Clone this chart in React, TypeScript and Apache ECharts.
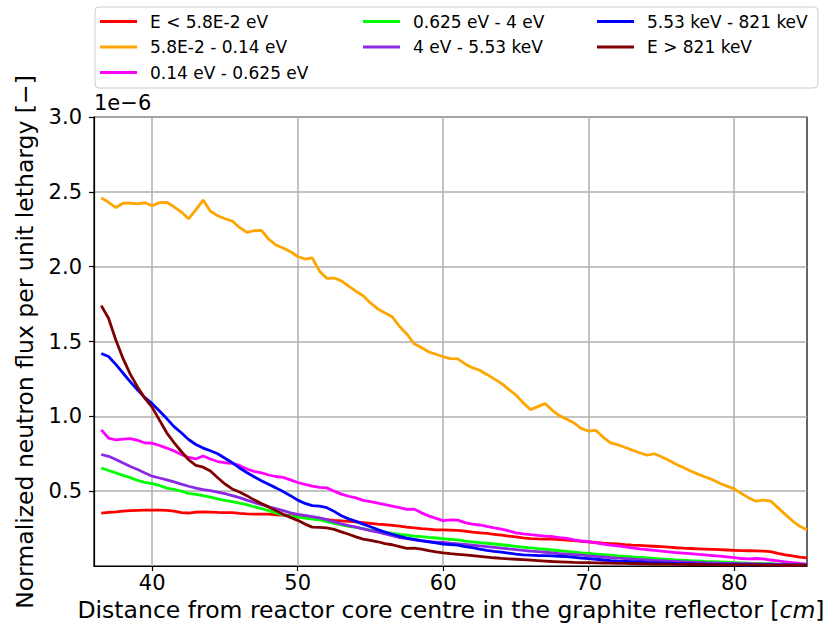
import React, { useEffect, useRef } from "react";
import * as echarts from "echarts";

// Distance from reactor core centre [cm] (sampling grid of the tally, 0.5 cm step)
const DISTANCE_CM: number[] = Array.from({ length: 98 }, (_, i) => 36.5 + 0.5 * i);

const X_TICKS = [40, 50, 60, 70, 80];
const Y_TICKS = [0.5, 1.0, 1.5, 2.0, 2.5, 3.0];

const SERIES_NAMES = [
  "E < 5.8E-2 eV",
  "5.8E-2 - 0.14 eV",
  "0.14 eV - 0.625 eV",
  "0.625 eV - 4 eV",
  "4 eV - 5.53 keV",
  "5.53 keV - 821 keV",
  "E > 821 keV",
];
const SERIES_COLORS = ["#ff0000", "#ffa500", "#ff00ff", "#00ff00", "#8a2be2", "#0000ff", "#800000"];

// values in units of 1e-6
const FLUX_THERMAL_LOW = [
  0.353, 0.358, 0.362, 0.367, 0.37, 0.372, 0.373, 0.373, 0.373, 0.371,
  0.366, 0.356, 0.354, 0.36, 0.362, 0.36, 0.358, 0.357, 0.357, 0.352,
  0.348, 0.347, 0.347, 0.346, 0.342, 0.34, 0.336, 0.332, 0.325, 0.32,
  0.314, 0.31, 0.305, 0.302, 0.298, 0.295, 0.29, 0.285, 0.28, 0.276,
  0.272, 0.266, 0.26, 0.255, 0.25, 0.246, 0.242, 0.241, 0.24, 0.238,
  0.233, 0.226, 0.222, 0.218, 0.212, 0.206, 0.2, 0.194, 0.188, 0.183,
  0.181, 0.18, 0.179, 0.177, 0.173, 0.169, 0.165, 0.161, 0.157, 0.153,
  0.15, 0.147, 0.143, 0.14, 0.138, 0.135, 0.132, 0.129, 0.126, 0.122,
  0.119, 0.117, 0.115, 0.113, 0.111, 0.109, 0.107, 0.105, 0.103, 0.102,
  0.101, 0.099, 0.096, 0.085, 0.075, 0.067, 0.06, 0.055,
];
const FLUX_THERMAL_MID = [
  2.46, 2.43, 2.395, 2.424, 2.425, 2.42, 2.427, 2.407, 2.428, 2.43,
  2.4, 2.365, 2.32, 2.38, 2.445, 2.37, 2.34, 2.32, 2.305, 2.262,
  2.229, 2.24, 2.243, 2.185, 2.145, 2.125, 2.1, 2.068, 2.051, 2.058,
  1.97, 1.922, 1.924, 1.905, 1.87, 1.836, 1.806, 1.758, 1.718, 1.69,
  1.665, 1.6, 1.55, 1.485, 1.46, 1.431, 1.415, 1.398, 1.386, 1.384,
  1.35, 1.325, 1.308, 1.28, 1.25, 1.22, 1.18, 1.142, 1.09, 1.045,
  1.065, 1.085, 1.04, 1.003, 0.98, 0.955, 0.918, 0.902, 0.906, 0.86,
  0.822, 0.81, 0.792, 0.774, 0.757, 0.74, 0.75, 0.73, 0.706, 0.68,
  0.658, 0.635, 0.614, 0.595, 0.577, 0.553, 0.534, 0.515, 0.484, 0.455,
  0.433, 0.44, 0.434, 0.39, 0.345, 0.302, 0.265, 0.242,
];
const FLUX_THERMAL_HIGH = [
  0.91, 0.855, 0.842, 0.848, 0.851, 0.84, 0.822, 0.82, 0.805, 0.788,
  0.769, 0.745, 0.725, 0.715, 0.735, 0.715, 0.698, 0.69, 0.686, 0.672,
  0.648, 0.632, 0.623, 0.608, 0.598, 0.592, 0.575, 0.558, 0.545, 0.534,
  0.526, 0.522, 0.5, 0.48, 0.466, 0.455, 0.438, 0.43, 0.42, 0.41,
  0.4, 0.39, 0.378, 0.38, 0.355, 0.335, 0.318, 0.303, 0.308, 0.306,
  0.29, 0.28, 0.274, 0.264, 0.255, 0.247, 0.235, 0.222, 0.215, 0.209,
  0.204, 0.2, 0.197, 0.19, 0.185, 0.175, 0.167, 0.162, 0.155, 0.147,
  0.14, 0.134, 0.128, 0.121, 0.114, 0.109, 0.104, 0.099, 0.094, 0.09,
  0.086, 0.082, 0.078, 0.074, 0.07, 0.066, 0.061, 0.056, 0.05, 0.048,
  0.05, 0.048, 0.04, 0.034, 0.028, 0.022, 0.017, 0.013,
];
const FLUX_EPITHERMAL_LOW = [
  0.655, 0.638, 0.622, 0.605, 0.59, 0.572, 0.558, 0.55, 0.538, 0.52,
  0.512, 0.5, 0.485, 0.478, 0.47, 0.46, 0.448, 0.438, 0.43, 0.42,
  0.41, 0.396, 0.384, 0.37, 0.355, 0.342, 0.333, 0.326, 0.32, 0.313,
  0.308, 0.297, 0.285, 0.275, 0.265, 0.258, 0.249, 0.24, 0.232, 0.226,
  0.218, 0.211, 0.206, 0.2, 0.196, 0.191, 0.187, 0.182, 0.178, 0.174,
  0.166, 0.161, 0.156, 0.152, 0.147, 0.142, 0.137, 0.131, 0.126, 0.121,
  0.116, 0.112, 0.107, 0.102, 0.098, 0.093, 0.088, 0.084, 0.08, 0.076,
  0.072, 0.068, 0.064, 0.06, 0.057, 0.054, 0.05, 0.047, 0.044, 0.041,
  0.039, 0.036, 0.034, 0.031, 0.029, 0.027, 0.025, 0.023, 0.021, 0.019,
  0.018, 0.016, 0.015, 0.013, 0.012, 0.01, 0.009, 0.008,
];
const FLUX_EPITHERMAL_HIGH = [
  0.745, 0.733, 0.712, 0.688, 0.665, 0.645, 0.622, 0.6, 0.588, 0.575,
  0.562, 0.547, 0.533, 0.52, 0.51, 0.503, 0.494, 0.483, 0.47, 0.457,
  0.44, 0.424, 0.41, 0.396, 0.383, 0.37, 0.355, 0.345, 0.338, 0.33,
  0.322, 0.31, 0.295, 0.282, 0.27, 0.26, 0.248, 0.236, 0.226, 0.215,
  0.203, 0.19, 0.183, 0.175, 0.168, 0.163, 0.16, 0.157, 0.152, 0.148,
  0.144, 0.139, 0.134, 0.129, 0.124, 0.119, 0.114, 0.11, 0.105, 0.1,
  0.096, 0.092, 0.088, 0.083, 0.08, 0.076, 0.072, 0.068, 0.064, 0.06,
  0.056, 0.052, 0.049, 0.046, 0.043, 0.04, 0.037, 0.035, 0.032, 0.03,
  0.028, 0.026, 0.024, 0.022, 0.021, 0.019, 0.018, 0.017, 0.016, 0.015,
  0.014, 0.013, 0.012, 0.011, 0.01, 0.01, 0.009, 0.009,
];
const FLUX_FAST_LOW = [
  1.42, 1.4, 1.347, 1.288, 1.23, 1.175, 1.125, 1.085, 1.035, 0.985,
  0.931, 0.89, 0.845, 0.812, 0.788, 0.77, 0.75, 0.72, 0.69, 0.655,
  0.625, 0.596, 0.57, 0.546, 0.522, 0.497, 0.47, 0.44, 0.418, 0.403,
  0.4, 0.39, 0.365, 0.336, 0.315, 0.298, 0.28, 0.262, 0.243, 0.226,
  0.212, 0.198, 0.186, 0.178, 0.17, 0.162, 0.154, 0.147, 0.143, 0.14,
  0.13, 0.122, 0.113, 0.105, 0.098, 0.092, 0.086, 0.08, 0.075, 0.072,
  0.07, 0.069, 0.068, 0.065, 0.062, 0.058, 0.053, 0.049, 0.045, 0.04,
  0.036, 0.033, 0.031, 0.029, 0.027, 0.024, 0.022, 0.02, 0.019, 0.017,
  0.016, 0.015, 0.013, 0.012, 0.011, 0.01, 0.009, 0.009, 0.008, 0.008,
  0.007, 0.007, 0.007, 0.006, 0.006, 0.006, 0.005, 0.005,
];
const FLUX_FAST_HIGH = [
  1.74, 1.655, 1.51, 1.385, 1.28, 1.195, 1.12, 1.06, 0.975, 0.89,
  0.824, 0.765, 0.71, 0.672, 0.66, 0.635, 0.59, 0.548, 0.515, 0.494,
  0.47, 0.442, 0.418, 0.395, 0.37, 0.345, 0.325, 0.305, 0.28, 0.26,
  0.258, 0.255, 0.245, 0.228, 0.212, 0.195, 0.18, 0.172, 0.162, 0.15,
  0.142, 0.13, 0.118, 0.12, 0.113, 0.102, 0.094, 0.087, 0.082, 0.078,
  0.074, 0.07, 0.065, 0.06, 0.055, 0.051, 0.048, 0.045, 0.042, 0.039,
  0.036, 0.033, 0.03, 0.028, 0.026, 0.024, 0.023, 0.022, 0.021, 0.02,
  0.019, 0.018, 0.017, 0.016, 0.015, 0.014, 0.013, 0.013, 0.012, 0.011,
  0.011, 0.01, 0.01, 0.009, 0.009, 0.008, 0.008, 0.008, 0.007, 0.007,
  0.007, 0.006, 0.006, 0.006, 0.005, 0.005, 0.005, 0.005,
];

const ALL_FLUX = [
  FLUX_THERMAL_LOW,
  FLUX_THERMAL_MID,
  FLUX_THERMAL_HIGH,
  FLUX_EPITHERMAL_LOW,
  FLUX_EPITHERMAL_HIGH,
  FLUX_FAST_LOW,
  FLUX_FAST_HIGH,
];

const FONT = "DejaVu Sans";

export default function App() {
  const ref = useRef<HTMLDivElement>(null);

  useEffect(() => {
    if (!ref.current) return;
    const chart = echarts.init(ref.current, undefined, { renderer: "svg" });

    const legendCommon = {
      orient: "vertical" as const,
      padding: 0,
      icon: "rect",
      itemWidth: 37,
      itemHeight: 3,
      itemGap: 6.5,
      selectedMode: false,
      textStyle: {
        fontFamily: FONT,
        fontSize: 17,
        color: "#000",
        lineHeight: 19,
        padding: [0, 0, 0, 8],
      },
    };

    const option: any = {
      animation: false,
      backgroundColor: "#fff",
      grid: {
        left: 94,
        right: 19,
        top: 117,
        bottom: 66,
        show: true,
        borderColor: "#000",
        borderWidth: 1.2,
        backgroundColor: "transparent",
      },
      legend: [
        { ...legendCommon, data: SERIES_NAMES.slice(0, 3), left: 100, top: 12 },
        { ...legendCommon, data: SERIES_NAMES.slice(3, 5), left: 363, top: 12 },
        { ...legendCommon, data: SERIES_NAMES.slice(5, 7), left: 597, top: 12 },
      ],
      xAxis: {
        type: "value",
        min: 36,
        max: 85,
        axisLine: { show: true, lineStyle: { color: "#000", width: 1.2 } },
        axisTick: {
          show: true,
          length: 5,
          lineStyle: { color: "#000", width: 1.2 },
          customValues: X_TICKS,
        },
        axisLabel: {
          customValues: X_TICKS,
          fontFamily: FONT,
          fontSize: 21,
          color: "#000",
          margin: 6,
          formatter: (v: number) => (X_TICKS.includes(Math.round(v * 1000) / 1000) ? String(v) : ""),
        },
        splitLine: { show: true, lineStyle: { color: "#b0b0b0", width: 1.5 } },
      },
      yAxis: {
        type: "value",
        min: 0,
        max: 3,
        interval: 0.5,
        axisLine: { show: true, lineStyle: { color: "#000", width: 1.2 } },
        axisTick: {
          show: true,
          length: 5,
          lineStyle: { color: "#000", width: 1.2 },
          customValues: Y_TICKS,
        },
        axisLabel: {
          customValues: Y_TICKS,
          fontFamily: FONT,
          fontSize: 21,
          color: "#000",
          margin: 12,
          formatter: (v: number) => (v > 0.01 ? v.toFixed(1) : ""),
        },
        splitLine: { show: true, lineStyle: { color: "#b0b0b0", width: 1.5 } },
      },
      graphic: [
        {
          type: "rect",
          shape: { x: 95, y: 7, width: 723, height: 81, r: 4 },
          style: { fill: "rgba(255,255,255,0.8)", stroke: "#cccccc", lineWidth: 1 },
          z: -1,
        },
        {
          type: "text",
          x: 94,
          y: 103,
          style: {
            text: "1e\u22126",
            font: `21px "${FONT}"`,
            fill: "#000",
            align: "left",
            verticalAlign: "middle",
            textAlign: "left",
            textVerticalAlign: "middle",
          },
        },
        {
          type: "text",
          x: 25,
          y: 342,
          rotation: Math.PI / 2,
          style: {
            text: "Normalized neutron flux per unit lethargy [\u2212]",
            font: `23.5px "${FONT}"`,
            fill: "#000",
            align: "center",
            verticalAlign: "middle",
            textAlign: "center",
            textVerticalAlign: "middle",
          },
        },
        {
          type: "text",
          x: 451,
          y: 610,
          style: {
            text: "{a|Distance from reactor core centre in the graphite reflector [}{i|cm}{a|]}",
            align: "center",
            verticalAlign: "middle",
            textAlign: "center",
            textVerticalAlign: "middle",
            rich: {
              a: { fontFamily: FONT, fontSize: 23.5, fill: "#000", color: "#000" },
              i: { fontFamily: FONT, fontSize: 23.5, fontStyle: "italic", fill: "#000", color: "#000" },
            },
          },
        },
      ],
      series: SERIES_NAMES.map((name, k) => ({
        name,
        type: "line",
        showSymbol: false,
        symbol: "none",
        color: SERIES_COLORS[k],
        lineStyle: { color: SERIES_COLORS[k], width: 2.8 },
        z: 2 + k,
        data: DISTANCE_CM.map((x, i) => [x, ALL_FLUX[k][i]]),
      })),
    };

    chart.setOption(option);
    return () => chart.dispose();
  }, []);

  return (
    <div
      ref={ref}
      style={{ position: "fixed", left: 0, top: 0, width: 826, height: 632 }}
    />
  );
}
